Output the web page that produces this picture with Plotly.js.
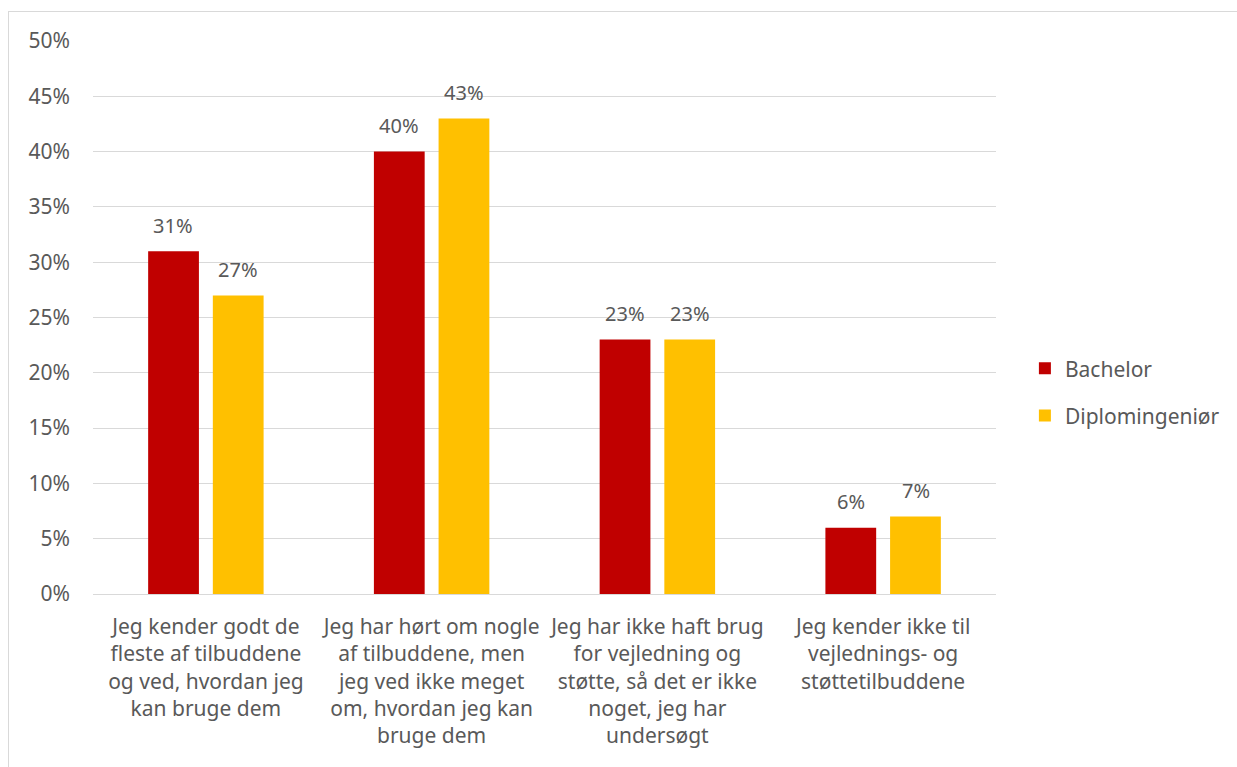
<!DOCTYPE html>
<html>
<head>
<meta charset="utf-8">
<script src="https://cdn.plot.ly/plotly-3.0.1.min.js"></script>
<style>
  html, body { margin: 0; padding: 0; background: #fff; }
  #wrap { position: relative; width: 1237px; height: 767px; overflow: hidden; }
  #frame { position: absolute; left: 8px; top: 11px; width: 1300px; height: 800px; border: 1px solid #d9d9d9; box-sizing: border-box; pointer-events: none; z-index: 2; }
  #chart { position: absolute; left: 0; top: 0; width: 1237px; height: 767px; }
</style>
</head>
<body>
<div id="wrap">
  <div id="chart"></div>
  <div id="frame"></div>
</div>
<script>
const categories = [
  "Jeg kender godt de<br>fleste af tilbuddene<br>og ved, hvordan jeg<br>kan bruge dem",
  "Jeg har hørt om nogle<br>af tilbuddene, men<br>jeg ved ikke meget<br>om, hvordan jeg kan<br>bruge dem",
  "Jeg har ikke haft brug<br>for vejledning og<br>støtte, så det er ikke<br>noget, jeg har<br>undersøgt",
  "Jeg kender ikke til<br>vejlednings- og<br>støttetilbuddene"
];
const bachelor = [0.31, 0.40, 0.23, 0.06];
const diplomingenior = [0.27, 0.43, 0.23, 0.07];
const seriesNames = ["Bachelor", "Diplomingeniør"];
const tickVals = [0, 0.05, 0.10, 0.15, 0.20, 0.25, 0.30, 0.35, 0.40, 0.45, 0.50];

const fontFam = "Noto Sans, Open Sans, sans-serif";
const textColor = "#595959";
const pct = v => Math.round(v * 100) + "%";

const traces = [
  {
    type: "bar", name: seriesNames[0], x: categories, y: bachelor,
    marker: { color: "#c00000" }, legendgroup: "a", hoverinfo: "none"
  },
  {
    type: "bar", name: seriesNames[1], x: categories, y: diplomingenior,
    marker: { color: "#ffc000" }, legendgroup: "b", hoverinfo: "none"
  }
];

const annotations = [];
[bachelor, diplomingenior].forEach((series, si) => {
  series.forEach((v, i) => {
    annotations.push({
      x: categories[i], y: v, xref: "x", yref: "y",
      text: pct(v), showarrow: false,
      xshift: si === 0 ? -32.5 : 32.5, yshift: 26,
      yanchor: "middle", xanchor: "center",
      font: { size: 20, color: textColor, family: fontFam }
    });
  });
});

const layout = {
  width: 1237, height: 767,
  margin: { l: 93, r: 236, t: 41, b: 173 },
  paper_bgcolor: "#ffffff", plot_bgcolor: "#ffffff",
  font: { family: fontFam, color: textColor, size: 20 },
  barmode: "group", bargap: 0.427, bargroupgap: 0.215,
  showlegend: true,
  annotations: annotations,
  legend: {
    x: 1.032, xanchor: "left", y: 0.365, yanchor: "middle",
    font: { size: 21, color: textColor, family: fontFam },
    tracegroupgap: 17, itemwidth: 30
  },
  xaxis: {
    type: "category", tickfont: { size: 21, color: textColor, family: fontFam },
    showgrid: false, showline: false, ticks: "", automargin: false,
    ticklabelstandoff: 18
  },
  yaxis: {
    range: [0, 0.5], tickvals: tickVals, ticktext: tickVals.map(pct),
    tickfont: { size: 21, color: textColor, family: fontFam },
    showgrid: true, gridcolor: "#d9d9d9", gridwidth: 1,
    zeroline: true, zerolinecolor: "#d9d9d9", zerolinewidth: 1,
    showline: false, ticks: "", ticklabelstandoff: 22, automargin: false
  }
};

Plotly.newPlot("chart", traces, layout, { displayModeBar: false, staticPlot: true });
</script>
</body>
</html>
